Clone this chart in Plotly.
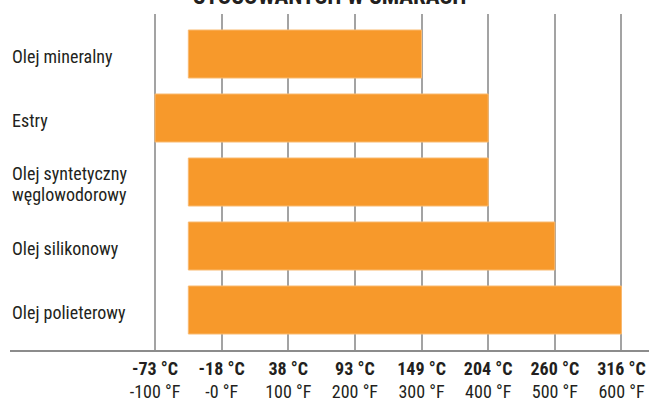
import plotly.graph_objects as go

categories = ["Olej mineralny", "Estry", "Olej syntetyczny<br>węglowodorowy",
              "Olej silikonowy", "Olej polieterowy"]
start_f = [-50, -100, -50, -50, -50]
end_f = [300, 400, 400, 500, 600]
tick_f = [-100, 0, 100, 200, 300, 400, 500, 600]
tick_c = ["-73 °C", "-18 °C", "38 °C", "93 °C", "149 °C", "204 °C", "260 °C", "316 °C"]
tick_f_lbl = ["-100 °F", "-0 °F", "100 °F", "200 °F", "300 °F", "400 °F", "500 °F", "600 °F"]
title = "STOSOWANYCH W SMARACH"

FONT = "Roboto Condensed, Liberation Sans, sans-serif"
ORANGE = "#F7992B"
TXT = "#231f20"

ypos = list(range(len(categories)))
fig = go.Figure()
fig.add_trace(go.Bar(
    y=ypos, x=[e - s for s, e in zip(start_f, end_f)], base=start_f,
    orientation="h", width=0.75,
    marker=dict(color=ORANGE, line=dict(color="#F9BA70", width=1)),
    hoverinfo="skip",
))

ticktext = [f"<b>{c}</b><br>{f}" for c, f in zip(tick_c, tick_f_lbl)]

fig.update_layout(
    width=649, height=401,
    margin=dict(l=10, r=0, t=14, b=51, autoexpand=False),
    paper_bgcolor="white", plot_bgcolor="white",
    showlegend=False,
    font=dict(family=FONT, size=18, color=TXT),
    xaxis=dict(
        range=[-317.6, 641.3], tickvals=tick_f, ticktext=ticktext,
        showgrid=True, gridcolor="#a3a3a3", gridwidth=1.5,
        zeroline=False, showline=True, linecolor="#8c8c8c", linewidth=2,
        ticks="", tickfont=dict(family=FONT, size=18, color=TXT),
        ticklabelstandoff=1, fixedrange=True, automargin=False,
    ),
    yaxis=dict(
        range=[4.625, -0.625], showticklabels=False, showgrid=False,
        zeroline=False, showline=False, ticks="", fixedrange=True,
        automargin=False,
    ),
)

LINE_GAP = 20.5
for i, c in enumerate(categories):
    lines = c.split("<br>")
    n = len(lines)
    for j, ln in enumerate(lines):
        off = ((n - 1) / 2 - j) * LINE_GAP
        fig.add_annotation(
            xref="paper", yref="y", x=0, y=i, text=ln, showarrow=False,
            xanchor="left", yanchor="middle", align="left",
            yshift=off - 2,
            font=dict(family=FONT, size=18, color=TXT),
        )

fig.add_annotation(
    xref="paper", yref="paper", x=0.5, y=1 + 1.5 / 336, text=f"<b>{title}</b>",
    showarrow=False, xanchor="center", yanchor="bottom",
    font=dict(family=FONT, size=23, color=TXT),
)

fig.write_html("out.html")
